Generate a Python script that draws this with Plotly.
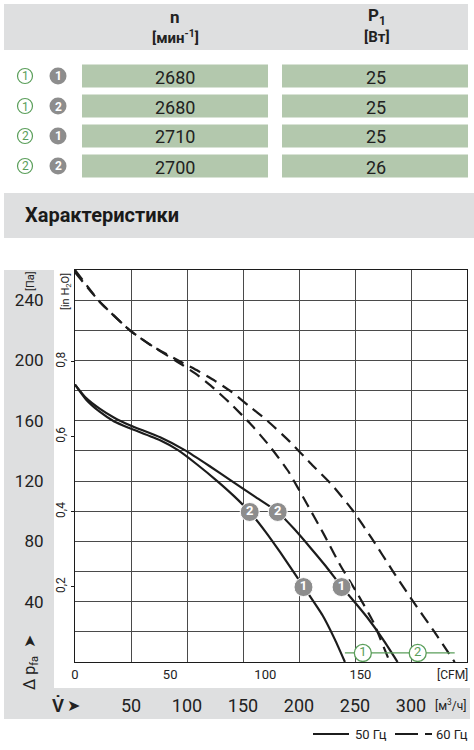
import plotly.graph_objects as go

W, H = 474, 750

# ---------------- data ----------------
speed_rpm = [2680, 2680, 2710, 2700]
power_w = [25, 25, 25, 26]
row_curve = ["1", "1", "2", "2"]
row_point = ["1", "2", "1", "2"]

pa_ticks = [40, 80, 120, 160, 200, 240]
pa_minor = [20, 60, 100, 140, 180, 220]
inh2o_ticks = [0.2, 0.4, 0.6, 0.8]
inh2o_labels = ["0,2", "0,4", "0,6", "0,8"]
m3h_ticks = [50, 100, 150, 200, 250, 300]
cfm_ticks = [0, 50, 100, 150]

# 50 Hz curves (solid)
c1_50_x = [0, 10, 22, 35, 49, 76, 92, 109, 127, 142, 156, 170, 183, 204, 221, 232, 241]
c1_50_y = [184, 174, 166, 159.5, 155, 147, 140.5, 131, 120, 110, 99.5, 86.5, 73, 50, 31, 15, 0]
c2_50_x = [0, 10, 22, 35, 49, 76, 98, 120, 141, 161, 181, 196, 210, 224, 238, 250, 261, 275, 288]
c2_50_y = [184, 175, 168, 162, 157, 149, 140.5, 130, 119.5, 109.5, 99.5, 88, 76, 63.5, 50, 39.5, 29.5, 15, 0]
# 60 Hz curves (dashed)
c1_60_x = [0, 22, 49, 70, 96, 110, 124, 138, 156, 174, 190, 207, 222, 237, 252, 266, 281]
c1_60_y = [258.5, 239, 220, 209, 197, 190, 181.5, 172, 158.5, 143, 127, 105, 85, 64, 45.5, 27, 0]
c2_60_x = [0, 22, 49, 70, 96, 110, 125, 140, 155, 171, 192, 210, 230, 248, 265, 284, 302, 320, 339]
c2_60_y = [260, 239, 220, 209, 198.5, 193, 186.5, 179, 170, 160.5, 146, 132, 117, 100.5, 82, 60, 40, 21, 0]

# operating points (grey) and curve labels (green)
op_x = [156, 181, 204, 238]
op_y = [99.5, 99.5, 49.7, 49.7]
op_lbl = ["2", "2", "1", "1"]
gl_x = [257, 306]
gl_y = [6, 6]
gl_lbl = ["1", "2"]
gline_x = [241, 339]
gline_y = [6, 6]

PA_PER_INH2O = 249.089
M3H_PER_CFM = 1.69901
X_MAX, Y_MAX = 350, 260

FONT = "Roboto, Liberation Sans, sans-serif"
DARK = "#1c1c1c"
GREYBAND = "#dedfe0"
GREEN_BAR = "#b3c8ad"
GREY_DOT = "#8d8d8d"
GREEN = "#5a9e5a"


def X(px):
    return px / W


def Y(py):
    return 1 - py / H


fig = go.Figure()

solid = dict(color=DARK, width=2.2, shape="spline", smoothing=0.5)
dashed = dict(color=DARK, width=2.2, shape="spline", smoothing=0.5, dash="12px,7px")
fig.add_trace(go.Scatter(x=c1_50_x, y=c1_50_y, mode="lines", line=solid))
fig.add_trace(go.Scatter(x=c2_50_x, y=c2_50_y, mode="lines", line=solid))
fig.add_trace(go.Scatter(x=c1_60_x, y=c1_60_y, mode="lines", line=dashed))
fig.add_trace(go.Scatter(x=c2_60_x, y=c2_60_y, mode="lines", line=dashed))
fig.add_trace(go.Scatter(x=gline_x, y=gline_y, mode="lines", line=dict(color=GREEN, width=1.2)))
fig.add_trace(go.Scatter(
    x=op_x, y=op_y, mode="markers+text", text=op_lbl, textposition="middle center",
    marker=dict(size=19, color=GREY_DOT, line=dict(color="white", width=1)),
    textfont=dict(color="white", size=13, family=FONT, weight="bold")))
fig.add_trace(go.Scatter(
    x=gl_x, y=gl_y, mode="markers+text", text=gl_lbl, textposition="middle center",
    marker=dict(size=17, color="white", line=dict(color=GREEN, width=1.3)),
    textfont=dict(color=GREEN, size=13, family=FONT)))

# ---------------- background shapes ----------------
shapes = []
shapes.append(dict(type="rect", xref="paper", yref="paper", x0=X(4), x1=X(468), y0=Y(50), y1=Y(4),
                   fillcolor=GREYBAND, line=dict(width=0), layer="below"))
shapes.append(dict(type="rect", xref="paper", yref="paper", x0=X(4), x1=X(474), y0=Y(238), y1=Y(193),
                   fillcolor=GREYBAND, line=dict(width=0), layer="below"))
shapes.append(dict(type="rect", xref="paper", yref="paper", x0=X(4), x1=X(54), y0=Y(688), y1=Y(270),
                   fillcolor=GREYBAND, line=dict(width=0), layer="below"))
shapes.append(dict(type="rect", xref="paper", yref="paper", x0=X(4), x1=X(470), y0=Y(719), y1=Y(688),
                   fillcolor=GREYBAND, line=dict(width=0), layer="below"))

annotations = []


def txt(px, py, text, size=14, color="#222", bold=False, angle=0, xanchor="center", family=FONT):
    annotations.append(dict(xref="paper", yref="paper", x=X(px), y=Y(py), text=text, showarrow=False,
                            xanchor=xanchor, yanchor="middle", textangle=angle,
                            font=dict(size=size, color=color, family=family,
                                      weight="bold" if bold else "normal")))


# table header
txt(175, 17, "n", 17, bold=True)
txt(175, 37, "[мин<sup>-1</sup>]", 15, bold=True)
txt(377, 17, "P<sub>1</sub>", 17, bold=True)
txt(377, 37, "[Вт]", 15, bold=True)

# table rows
for i, (n, p, c, pt) in enumerate(zip(speed_rpm, power_w, row_curve, row_point)):
    cy = 76 + 30 * i
    shapes.append(dict(type="rect", xref="paper", yref="paper", x0=X(82), x1=X(268), y0=Y(cy + 11.5),
                       y1=Y(cy - 11.5), fillcolor=GREEN_BAR, line=dict(width=0), layer="below"))
    shapes.append(dict(type="rect", xref="paper", yref="paper", x0=X(282), x1=X(468), y0=Y(cy + 11.5),
                       y1=Y(cy - 11.5), fillcolor=GREEN_BAR, line=dict(width=0), layer="below"))
    txt(175, cy + 1, str(n), 18)
    txt(376, cy + 1, str(p), 18)
    shapes.append(dict(type="circle", xref="paper", yref="paper", x0=X(25 - 7.5), x1=X(25 + 7.5),
                       y0=Y(cy + 7.5), y1=Y(cy - 7.5), line=dict(color=GREEN, width=1.2), fillcolor="white"))
    txt(25, cy + 0.5, c, 12, color=GREEN)
    shapes.append(dict(type="circle", xref="paper", yref="paper", x0=X(58 - 8.5), x1=X(58 + 8.5),
                       y0=Y(cy + 8.5), y1=Y(cy - 8.5), line=dict(width=0), fillcolor=GREY_DOT))
    txt(58, cy + 0.5, pt, 12, color="white", bold=True)

# section header
txt(23, 215, "Характеристики", 20, color="#1a1a1a", bold=True, xanchor="left")

# axis texts
txt(30, 281, "[Па]", 11, angle=-90)
txt(66, 292, "[in H<sub>2</sub>O]", 11, angle=-90)
txt(30, 663, "Δ p<sub>fa</sub>  ➤", 16, angle=-90)
txt(452, 675, "[CFM]", 12)
txt(58, 705, "V̇", 18, bold=True)
txt(73, 705, "➤", 16)
txt(450, 705, "[м<sup>3</sup>/ч]", 12)

# legend
shapes.append(dict(type="line", xref="paper", yref="paper", x0=X(313), x1=X(349), y0=Y(734), y1=Y(734),
                   line=dict(color=DARK, width=1.8)))
txt(353, 734, "50 Гц", 13, xanchor="left")
shapes.append(dict(type="line", xref="paper", yref="paper", x0=X(395), x1=X(432), y0=Y(734), y1=Y(734),
                   line=dict(color=DARK, width=1.8, dash="23px,7px")))
txt(434, 734, "60 Гц", 13, xanchor="left")

GRID = "#4a4a4a"
dom_x = [X(75), X(467)]
dom_y = [Y(662), Y(270)]

fig.update_layout(
    template="none",
    width=W, height=H,
    margin=dict(l=0, r=0, t=0, b=0),
    paper_bgcolor="white", plot_bgcolor="white",
    showlegend=False,
    font=dict(family=FONT, color="#222"),
    shapes=shapes, annotations=annotations,
    xaxis=dict(domain=dom_x, range=[0, X_MAX], tickvals=m3h_ticks, ticktext=[str(v) for v in m3h_ticks],
               showgrid=True, gridcolor=GRID, gridwidth=1, zeroline=False, showline=True, linecolor=DARK,
               linewidth=1.2, mirror=True, ticks="", tickfont=dict(size=18, color="#222"),
               ticklabelstandoff=27, automargin=False, fixedrange=True),
    xaxis2=dict(overlaying="x", anchor="y", side="bottom", range=[0, X_MAX / M3H_PER_CFM],
                tickvals=cfm_ticks, ticktext=[str(v) for v in cfm_ticks], showgrid=False, zeroline=False,
                showline=False, ticks="", tickfont=dict(size=13, color="#222"), ticklabelstandoff=3,
                automargin=False),
    yaxis=dict(domain=dom_y, range=[0, Y_MAX], tickvals=pa_ticks, ticktext=[str(v) for v in pa_ticks],
               showgrid=True, gridcolor=GRID, gridwidth=1, zeroline=False, showline=True, linecolor=DARK,
               linewidth=1.2, mirror=True, ticks="", tickfont=dict(size=17, color="#222"),
               ticklabelstandoff=27, automargin=False,
               minor=dict(tickvals=pa_minor, showgrid=True, gridcolor=GRID, gridwidth=1)),
    yaxis2=dict(overlaying="y", anchor="x", side="left", range=[0, Y_MAX / PA_PER_INH2O],
                tickvals=inh2o_ticks, ticktext=inh2o_labels, showgrid=False, zeroline=False, showline=False,
                ticks="outside", ticklen=3, tickcolor=DARK, tickangle=-90,
                tickfont=dict(size=12, color="#222"), ticklabelstandoff=1, automargin=False),
)

# hidden trace to activate secondary axes
fig.add_trace(go.Scatter(x=[0], y=[0], xaxis="x2", yaxis="y2", mode="markers",
                         marker=dict(opacity=0), hoverinfo="skip"))

fig.write_html("out.html")
